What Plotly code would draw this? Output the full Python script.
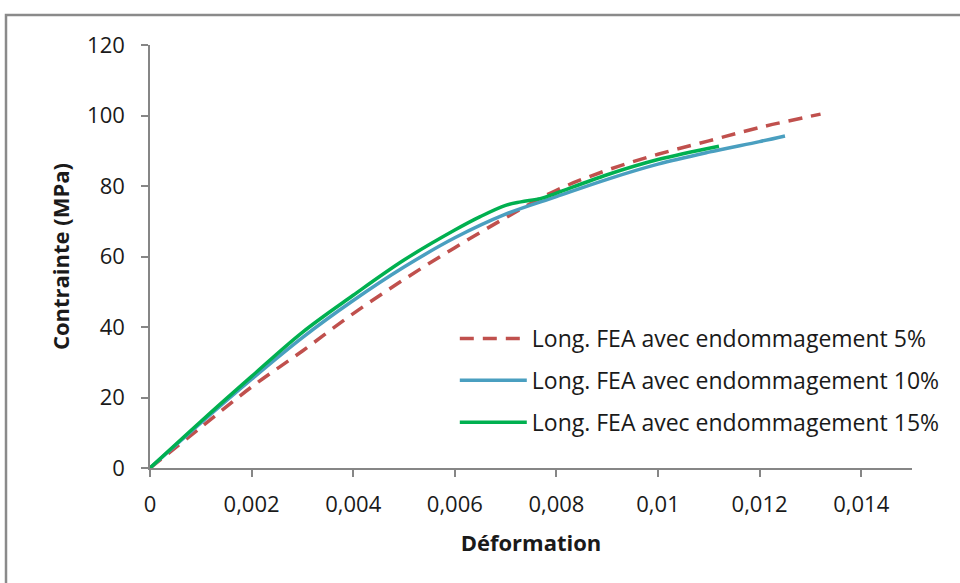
import plotly.graph_objects as go

# Data
x_5 = [0, 0.001, 0.002, 0.003, 0.004, 0.005, 0.006, 0.007, 0.008, 0.009, 0.010, 0.011, 0.012, 0.0132]
y_5 = [0, 11.5, 23.0, 33.2, 43.8, 53.5, 62.5, 71.0, 78.8, 84.5, 89.0, 92.8, 96.6, 100.4]

x_10 = [0, 0.001, 0.002, 0.003, 0.004, 0.005, 0.006, 0.007, 0.008, 0.009, 0.010, 0.011, 0.012, 0.0125]
y_10 = [0, 12.8, 25.2, 37.0, 47.5, 57.0, 65.3, 72.0, 77.0, 81.9, 86.2, 89.6, 92.6, 94.2]

x_15 = [0, 0.001, 0.002, 0.003, 0.004, 0.005, 0.006, 0.0065, 0.007, 0.0073, 0.0077, 0.008, 0.009, 0.010, 0.0112]
y_15 = [0, 13.2, 26.0, 38.5, 49.0, 59.0, 67.5, 71.3, 74.5, 75.5, 76.5, 78.0, 83.2, 87.5, 91.3]

names = ["Long. FEA avec endommagement 5%",
         "Long. FEA avec endommagement 10%",
         "Long. FEA avec endommagement 15%"]

FONT = "Open Sans"
AXIS_GREY = "#868686"

fig = go.Figure()
fig.add_trace(go.Scatter(x=x_5, y=y_5, mode="lines", name=names[0], legendgroup="g5",
                         line=dict(color="#C0504D", width=3.5, dash="14px,9px", shape="spline")))
fig.add_trace(go.Scatter(x=x_10, y=y_10, mode="lines", name=names[1], legendgroup="g10",
                         line=dict(color="#4A9FC0", width=3.5, shape="spline")))
fig.add_trace(go.Scatter(x=x_15, y=y_15, mode="lines", name=names[2], legendgroup="g15",
                         line=dict(color="#00B050", width=3.5, shape="spline")))

fig.update_layout(
    width=960, height=583,
    margin=dict(l=150, r=48, t=45, b=115),
    paper_bgcolor="white", plot_bgcolor="white",
    separators=", ",
    font=dict(family=FONT, size=22, color="#1a1a1a"),
    showlegend=True,
    legend=dict(x=0.4, y=0.357, xanchor="left", yanchor="top",
                bgcolor="rgba(0,0,0,0)", font=dict(family=FONT, size=23, color="#1a1a1a"),
                itemwidth=67, traceorder="grouped", tracegroupgap=9),
    xaxis=dict(range=[0, 0.015], dtick=0.002, tick0=0, showgrid=False, zeroline=False,
               showline=True, linecolor=AXIS_GREY, linewidth=1.5, automargin=False,
               ticks="outside", ticklen=7, tickcolor=AXIS_GREY, tickwidth=1.5,
               ticklabelstandoff=9,
               tickfont=dict(family=FONT, size=22),
               title=dict(text="<b>Déformation</b>", font=dict(family=FONT, size=22), standoff=18)),
    yaxis=dict(range=[0, 120], dtick=20, showgrid=False, zeroline=False,
               showline=True, linecolor=AXIS_GREY, linewidth=1.5, automargin=False,
               ticks="outside", ticklen=7, tickcolor=AXIS_GREY, tickwidth=1.5,
               ticklabelstandoff=12,
               tickfont=dict(family=FONT, size=22),
               title=dict(text="<b>Contrainte (MPa)</b>", font=dict(family=FONT, size=22), standoff=11)),
    shapes=[dict(type="rect", xref="paper", yref="paper",
                 x0=(6 - 150) / 762, x1=1.2, y0=-0.5, y1=1 + (45 - 15) / 423,
                 line=dict(color="#8a8a8a", width=2.5), fillcolor="rgba(0,0,0,0)", layer="below")],
)

fig.write_html("out.html", config={"displayModeBar": False},
               post_script="document.body.style.margin='0';")
